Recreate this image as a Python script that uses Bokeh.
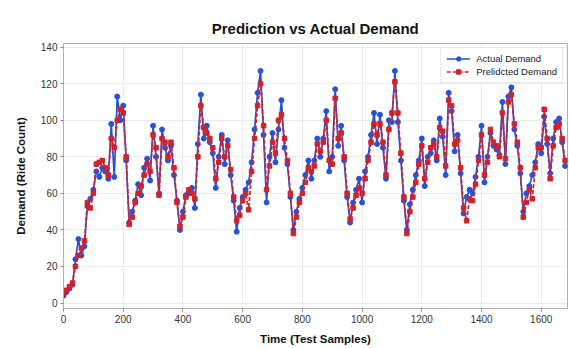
import numpy as np
from bokeh.plotting import figure
from bokeh.models import Range1d, FixedTicker, Legend, LegendItem
from bokeh.embed import file_html
from bokeh.resources import INLINE

step = 10
actual = [4, 6, 8, 10, 24, 35, 26, 31, 53, 57, 62, 72, 69, 74, 72, 68, 98, 69, 113, 100,
          108, 78, 44, 50, 56, 65, 59, 74, 79, 67, 97, 80, 60, 95, 85, 78, 86, 70, 56, 40,
          50, 59, 60, 63, 52, 87, 114, 90, 97, 88, 82, 63, 80, 92, 76, 89, 70, 56, 39, 52,
          58, 62, 66, 77, 95, 115, 127, 92, 55, 80, 93, 77, 95, 111, 85, 76, 58, 40, 50, 57,
          63, 70, 78, 68, 78, 90, 80, 90, 105, 72, 80, 117, 86, 97, 78, 58, 44, 55, 62, 68,
          55, 72, 80, 92, 104, 87, 103, 85, 68, 100, 99, 127, 99, 78, 56, 40, 54, 62, 70, 78,
          90, 64, 80, 82, 89, 78, 101, 91, 70, 115, 105, 83, 92, 71, 49, 58, 62, 60, 69, 80,
          97, 66, 80, 93, 86, 84, 81, 110, 76, 113, 118, 95, 86, 71, 50, 60, 64, 70, 77, 87,
          82, 102, 87, 71, 90, 99, 101, 88, 75]
predicted = [5, 7, 9, 11, 20, 26, 30, 34, 55, 52, 60, 76, 77, 78, 74, 70, 90, 85, 100, 106,
             104, 80, 43, 47, 55, 60, 64, 70, 76, 72, 92, 85, 59, 90, 88, 80, 88, 74, 55, 42,
             47, 58, 62, 60, 57, 80, 108, 96, 93, 90, 85, 68, 77, 90, 80, 86, 73, 58, 45, 48,
             56, 60, 51, 72, 90, 108, 120, 97, 62, 75, 88, 82, 100, 103, 90, 78, 60, 38, 47, 55,
             60, 66, 74, 72, 75, 87, 83, 88, 100, 78, 76, 112, 90, 93, 80, 60, 46, 52, 59, 63,
             60, 68, 78, 88, 98, 92, 98, 88, 70, 95, 104, 121, 104, 82, 58, 38, 50, 58, 66, 76,
             86, 68, 77, 85, 87, 80, 96, 94, 75, 111, 108, 87, 89, 74, 52, 45, 57, 56, 65, 78,
             92, 70, 77, 95, 88, 86, 80, 104, 79, 110, 114, 98, 88, 74, 47, 55, 62, 57, 74, 85,
             85, 106, 90, 68, 86, 96, 98, 90, 78]
x_ticks = [0, 200, 400, 600, 800, 1000, 1200, 1400, 1600]
y_ticks = [0, 20, 40, 60, 80, 100, 120, 140]

x = np.arange(len(actual)) * step

FONT = "Liberation Sans"
BLUE = "#2552d6"
RED = "#d1222b"

p = figure(width=569, height=348, output_backend="svg", toolbar_location=None,
           x_range=Range1d(0, 1688), y_range=Range1d(-3, 142),
           title="Prediction vs Actual Demand",
           min_border_left=63, min_border_right=2, min_border_top=43, min_border_bottom=40)

p.title.text_font = FONT
p.title.text_font_size = "15px"
p.title.text_font_style = "bold"
p.title.align = "center"
p.title.text_color = "#111111"
p.title.standoff = 14

p.background_fill_color = "white"
p.border_fill_color = "white"
p.outline_line_color = "#b0b0b0"
p.outline_line_width = 1

for ax in (p.xaxis[0], p.yaxis[0]):
    ax.axis_label_text_font = FONT
    ax.axis_label_text_font_size = "11.5px"
    ax.axis_label_text_font_style = "bold"
    ax.axis_label_text_color = "#111111"
    ax.major_label_text_font = FONT
    ax.major_label_text_font_size = "10px"
    ax.major_label_text_color = "#333333"
    ax.axis_line_color = "#b0b0b0"
    ax.major_tick_line_color = "#888888"
    ax.major_tick_out = 3
    ax.major_tick_in = 0
    ax.major_label_standoff = 3
    ax.minor_tick_line_color = None

p.xaxis.axis_label = "Time (Test Samples)"
p.yaxis.axis_label = "Demand (Ride Count)"
p.xaxis.ticker = FixedTicker(ticks=x_ticks)
p.yaxis.ticker = FixedTicker(ticks=y_ticks)
p.xaxis.axis_label_standoff = 7
p.yaxis.axis_label_standoff = 11

p.xgrid.grid_line_color = "#ebebeb"
p.ygrid.grid_line_color = "#ebebeb"

la = p.line(x, actual, line_color=BLUE, line_width=1.7)
ma = p.scatter(x, actual, marker="circle", size=5, fill_color=BLUE, line_color=BLUE)
lp = p.line(x, predicted, line_color=RED, line_width=1.7, line_dash="4 2")
mp = p.scatter(x, predicted, marker="square", size=4.5, fill_color=RED, line_color=RED)

legend = Legend(items=[LegendItem(label="Actual Demand", renderers=[la, ma]),
                       LegendItem(label="Prelidcted Demand", renderers=[lp, mp])],
                location="top_right")
legend.label_text_font = FONT
legend.label_text_font_size = "9.5px"
legend.label_text_color = "#222222"
legend.border_line_color = "#d0d0d0"
legend.background_fill_alpha = 0.9
legend.glyph_width = 24
legend.glyph_height = 11
legend.label_height = 11
legend.spacing = 2
legend.padding = 5
legend.margin = 4
legend.label_standoff = 6
p.add_layout(legend)

open("out.html", "w").write(file_html(p, INLINE))
